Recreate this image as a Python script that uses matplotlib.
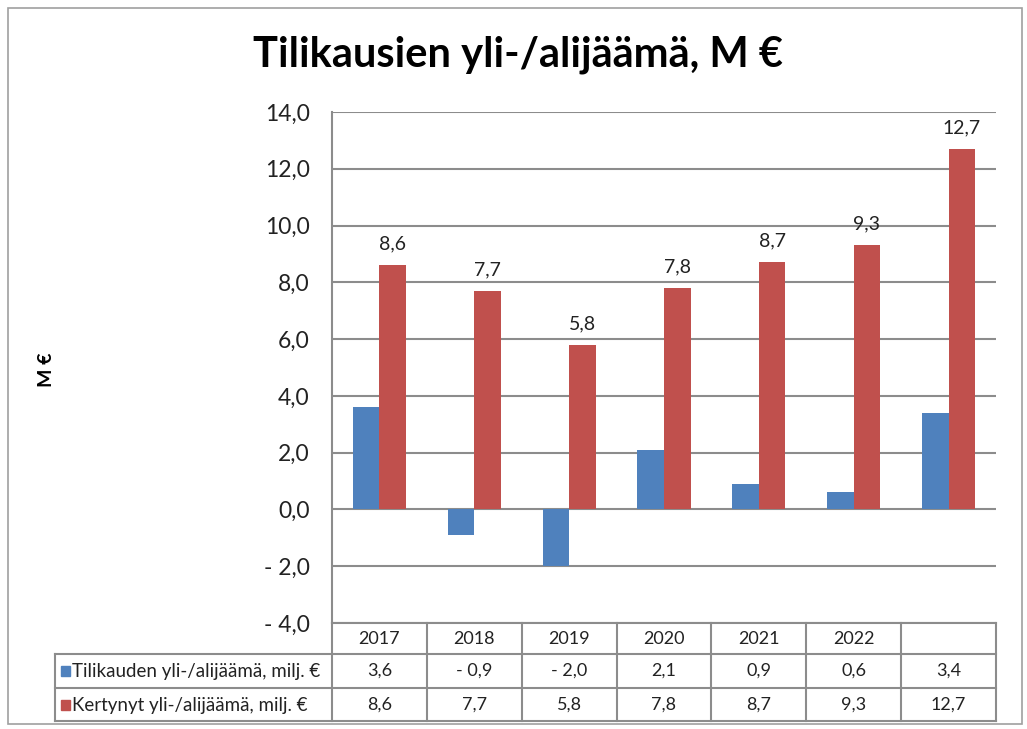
import matplotlib
matplotlib.use("Agg")
import matplotlib.pyplot as plt
from matplotlib.transforms import blended_transform_factory
from matplotlib.patches import Rectangle
from matplotlib.lines import Line2D

categories = ["2017", "2018", "2019", "2020", "2021", "2022", ""]
tilikausi = [3.6, -0.9, -2.0, 2.1, 0.9, 0.6, 3.4]
kertynyt = [8.6, 7.7, 5.8, 7.8, 8.7, 9.3, 12.7]
series_names = ["Tilikauden yli-/alijäämä, milj. €", "Kertynyt yli-/alijäämä, milj. €"]
title = "Tilikausien yli-/alijäämä, M €"
ylabel = "M €"
yticks = [-4, -2, 0, 2, 4, 6, 8, 10, 12, 14]

BLUE = "#4F81BD"
RED = "#C0504D"
GRID = "#8C8C8C"
TXT = "#222222"
FONT = ["Lato", "DejaVu Sans"]

def fmt(v):
    s = f"{abs(v):.1f}".replace(".", ",")
    return ("- " + s) if v < 0 else s

W, H = 1027, 729
fig = plt.figure(figsize=(W / 100, H / 100), dpi=100)
plt.rcParams["font.family"] = FONT

def fx(px):
    return px / W

def fy(py):
    return 1 - py / H

# outer border
fig.patches.append(Rectangle((fx(8), fy(724)), fx(1022) - fx(8), fy(8) - fy(724),
                             transform=fig.transFigure, fill=False, edgecolor="#A0A0A0", lw=1.2))

left, right, top, bottom = 332, 996, 112, 623
ax = fig.add_axes([fx(left), fy(bottom), fx(right) - fx(left), fy(top) - fy(bottom)])
n = len(categories)
x = list(range(n))
bw = 0.28
ax.bar([i - bw / 2 for i in x], tilikausi, width=bw, color=BLUE, zorder=3)
ax.bar([i + bw / 2 for i in x], kertynyt, width=bw, color=RED, zorder=3)
for i, v in zip(x, kertynyt):
    ax.text(i + bw / 2, v + 0.45, fmt(v), ha="center", va="bottom", fontsize=14, color=TXT)

ax.set_xlim(-0.5, n - 0.5)
ax.set_ylim(-4, 14)
ax.set_yticks(yticks)
ax.set_yticklabels([fmt(t) for t in yticks], fontsize=16.5, color=TXT)
ax.tick_params(axis="y", length=0, pad=16)
ax.set_xticks([])
for s in ["top", "right", "bottom"]:
    ax.spines[s].set_visible(False)
ax.spines["left"].set_color(GRID)
ax.spines["left"].set_linewidth(1.5)
for t in yticks:
    ax.axhline(t, color=GRID, lw=1.5, zorder=1)

fig.text(fx(46), fy(370), ylabel, rotation=90, ha="center", va="center",
         fontsize=14, fontweight="bold")
fig.text(fx(518), fy(55), title, ha="center", va="center", fontsize=30, fontweight="bold")

# data table
tr = blended_transform_factory(ax.transData, fig.transFigure)
lc = GRID
fig.lines.append(Line2D([fx(left), fx(right)], [fy(623), fy(623)], transform=fig.transFigure, color=lc, lw=1.5))
for yy in [654, 688, 721]:
    fig.lines.append(Line2D([fx(55), fx(right)], [fy(yy), fy(yy)], transform=fig.transFigure, color=lc, lw=1.5))
fig.lines.append(Line2D([fx(55), fx(55)], [fy(654), fy(721)], transform=fig.transFigure, color=lc, lw=1.5))
for xb in [-0.5 + k for k in range(n + 1)]:
    ax.add_line(Line2D([xb, xb], [fy(623), fy(721)], transform=tr, color=lc, lw=1.5, clip_on=False))

for i, c in enumerate(categories):
    ax.text(i, fy(639), c, transform=tr, ha="center", va="center", fontsize=13, color=TXT)
    ax.text(i, fy(671), fmt(tilikausi[i]), transform=tr, ha="center", va="center", fontsize=13, color=TXT)
    ax.text(i, fy(705), fmt(kertynyt[i]), transform=tr, ha="center", va="center", fontsize=13, color=TXT)

for yy, name, col in [(671, series_names[0], BLUE), (705, series_names[1], RED)]:
    fig.patches.append(Rectangle((fx(61), fy(yy) - 0.0075), fx(9), 0.015,
                                 transform=fig.transFigure, color=col))
    fig.text(fx(72), fy(yy), name, ha="left", va="center", fontsize=13.5, color=TXT)

fig.savefig("out.png", dpi=100)
